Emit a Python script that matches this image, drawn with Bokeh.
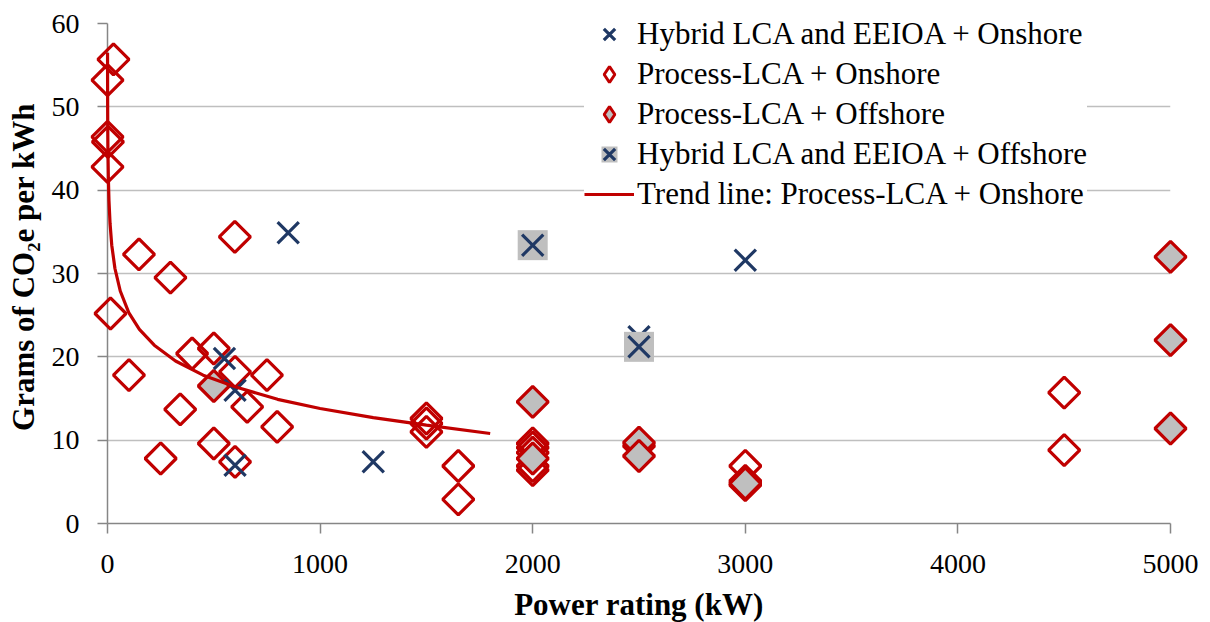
import numpy as np
from bokeh.plotting import figure
from bokeh.models import Range1d, Legend, LegendItem
from bokeh.embed import file_html
from bokeh.resources import INLINE

# ---- data ----
x_ticks = [0, 1000, 2000, 3000, 4000, 5000]
y_ticks = [0, 10, 20, 30, 40, 50, 60]
grid_ticks = [10, 20, 30, 40, 50]

proc_on_x = [28, 0, 0, 2, 0, 148, 296, 599, 14, 101, 398, 500, 600, 750, 657, 342,
             798, 500, 250, 600, 1500, 1500, 1500, 1650, 1650, 2000, 2000, 2000,
             2000, 2000, 2500, 3000, 3000, 4500, 4500]
proc_on_y = [55.7, 53.2, 46.4, 45.8, 42.8, 32.3, 29.5, 34.4, 25.2, 17.8, 20.4, 21.0,
             18.2, 17.8, 14.0, 13.7, 11.6, 9.6, 7.8, 7.4, 12.6, 12.0, 11.0, 6.9, 2.9,
             9.6, 9.1, 8.5, 6.9, 6.4, 9.3, 6.9, 4.6, 15.7, 8.8]

proc_off_x = [500, 2000, 2000, 2500, 2500, 3000, 3000, 5000, 5000, 5000]
proc_off_y = [16.5, 14.6, 7.8, 9.7, 8.1, 5.1, 4.8, 32.0, 22.0, 11.4]

hyb_on_x = [550, 600, 600, 850, 1250, 2500, 3000]
hyb_on_y = [19.8, 16.0, 7.0, 34.9, 7.4, 22.4, 31.6]

hyb_off_x = [2000, 2500]
hyb_off_y = [33.4, 21.2]

trend_x = [0.2, 0.5, 1, 2, 4, 7, 12, 20, 35, 60, 100, 150, 220, 320, 450, 600,
           800, 1000, 1250, 1500, 1800]
trend_y = [56.5, 51.9, 48.4, 45.0, 41.5, 38.7, 36.0, 33.4, 30.6, 27.9, 25.3, 23.3,
           21.4, 19.5, 17.8, 16.4, 14.9, 13.8, 12.7, 11.8, 10.8]

labels = ["Hybrid LCA and EEIOA + Onshore", "Process-LCA + Onshore",
          "Process-LCA + Offshore", "Hybrid LCA and EEIOA + Offshore",
          "Trend line: Process-LCA + Onshore"]

RED = "#c00000"
NAVY = "#1f3864"
GRAY = "#bfbfbf"
AXIS = "#868686"
FONT = "Liberation Serif"

y_lo, y_hi = y_ticks[0], y_ticks[-1]
# frame extends 13px above the top tick so the legend (which sits above it) is not clipped
frame_h = 513
y_top = y_hi * frame_h / 500.0

p = figure(frame_width=1063, frame_height=frame_h,
           x_range=Range1d(x_ticks[0], x_ticks[-1]), y_range=Range1d(y_lo, y_top),
           output_backend="svg", toolbar_location=None,
           min_border_left=107, min_border_right=30, min_border_top=10,
           min_border_bottom=99)
p.outline_line_color = None
p.background_fill_color = "white"

for ax in (p.xaxis, p.yaxis):
    ax.axis_line_color = AXIS
    ax.axis_line_width = 1.5
    ax.major_tick_line_color = AXIS
    ax.major_tick_line_width = 1.5
    ax.major_tick_out = 10
    ax.major_tick_in = 0
    ax.minor_tick_line_color = None
    ax.major_label_text_font = FONT
    ax.major_label_text_font_size = "28px"
    ax.major_label_text_color = "black"
    ax.axis_label_text_font = FONT
    ax.axis_label_text_font_size = "31px"
    ax.axis_label_text_font_style = "bold"
    ax.axis_label_text_color = "black"

p.xaxis.ticker = x_ticks
p.yaxis.ticker = y_ticks
p.yaxis.bounds = (y_lo, y_hi)
p.xaxis.major_label_standoff = 21
p.yaxis.major_label_standoff = 18
p.xaxis.axis_label = "Power rating (kW)"
p.yaxis.axis_label = "Grams of CO\u2082e per kWh"
p.xaxis.axis_label_standoff = 11
p.yaxis.axis_label_standoff = 8

p.xgrid.visible = False
p.ygrid.ticker = grid_ticks
p.ygrid.grid_line_color = GRAY
p.ygrid.grid_line_width = 1.5

r_pon = p.scatter(proc_on_x, proc_on_y, marker="square", angle=np.pi / 4, size=22,
                  line_color=RED, line_width=3.2, fill_color=None, level="overlay")
r_poff = p.scatter(proc_off_x, proc_off_y, marker="square", angle=np.pi / 4, size=22,
                   line_color=RED, line_width=3.2, fill_color=GRAY, level="overlay")
r_hon = p.scatter(hyb_on_x, hyb_on_y, marker="x", size=30, line_color=NAVY,
                  line_width=3.2, level="overlay")
r_hoff_sq = p.scatter(hyb_off_x, hyb_off_y, marker="square", size=30, line_color=None,
                      fill_color=GRAY, level="overlay")
r_hoff_x = p.scatter(hyb_off_x, hyb_off_y, marker="x", size=30, line_color=NAVY,
                     line_width=3.2, level="overlay")
r_trend = p.line(trend_x, trend_y, line_color=RED, line_width=3.2, level="overlay")

# legend-only proxies drawing the diamond shape (rotated squares show unrotated in legends)
lg_pon = p.scatter([np.nan], [np.nan], marker="diamond", line_color=RED,
                   line_width=3, fill_color="white")
lg_poff = p.scatter([np.nan], [np.nan], marker="diamond", line_color=RED,
                    line_width=3, fill_color=GRAY)

legend = Legend(items=[
    LegendItem(label=labels[0], renderers=[r_hon]),
    LegendItem(label=labels[1], renderers=[lg_pon]),
    LegendItem(label=labels[2], renderers=[lg_poff]),
    LegendItem(label=labels[3], renderers=[r_hoff_sq, r_hoff_x]),
    LegendItem(label=labels[4], renderers=[r_trend]),
], location=(477, 309), glyph_width=50, glyph_height=40, label_height=40,
    spacing=0, padding=0, margin=0, label_standoff=3,
    border_line_color=None, background_fill_color="white", background_fill_alpha=1,
    label_text_font=FONT, label_text_font_size="31px", label_text_color="black")
p.add_layout(legend)

open("out.html", "w").write(file_html(p, INLINE))
